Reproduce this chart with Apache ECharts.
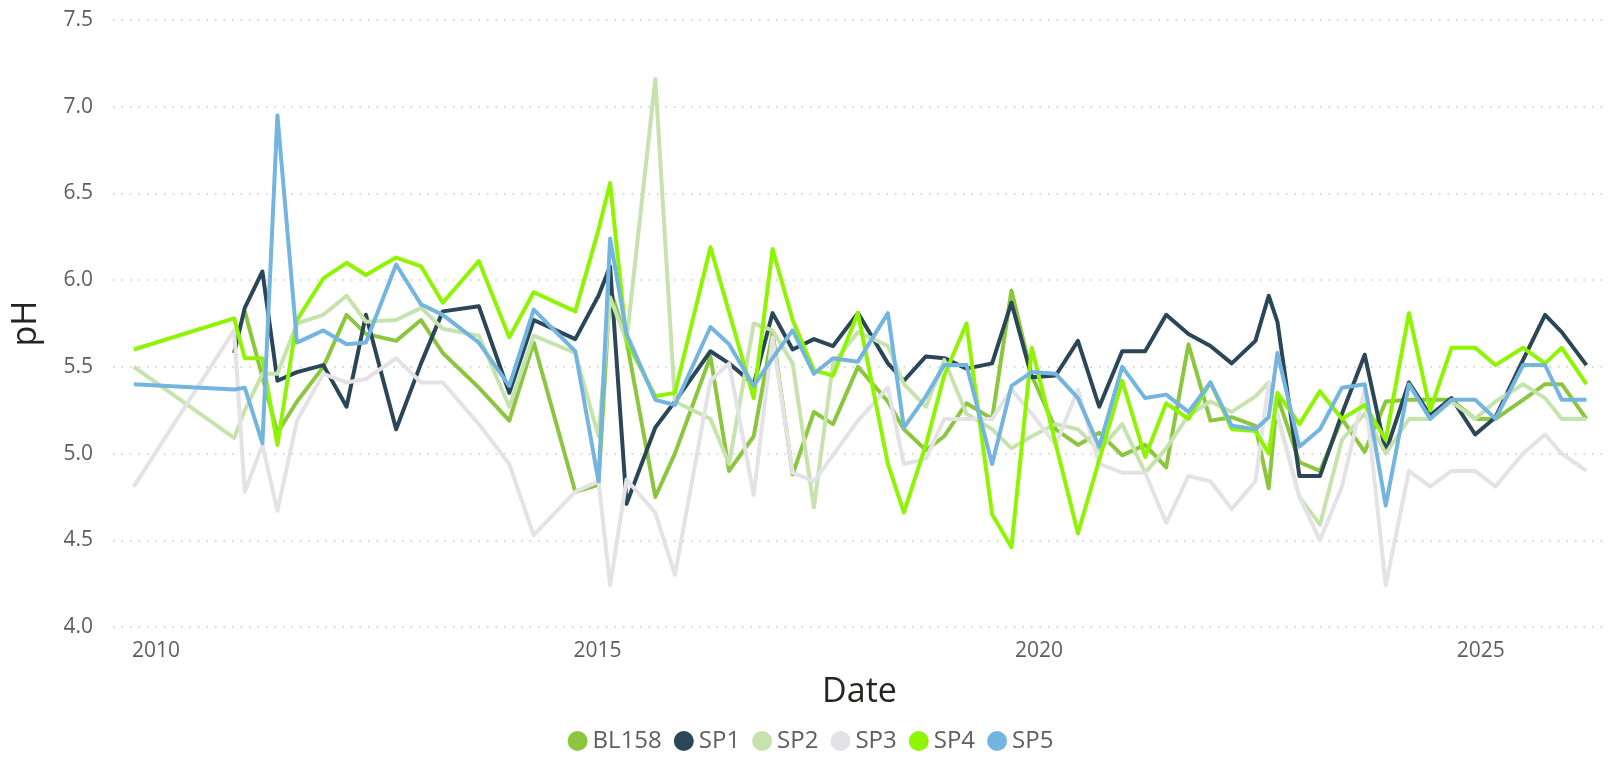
<!DOCTYPE html>
<html>
<head>
<meta charset="utf-8">
<title>pH</title>
<script src="https://cdn.jsdelivr.net/npm/echarts@6/dist/echarts.min.js"></script>
<style>
  html, body { margin: 0; padding: 0; background: #fff; }
  #chart { width: 1621px; height: 759px; }
</style>
</head>
<body>
<div id="chart"></div>
<script>
// sample dates (shared by all sites), null = no sample
var dates = [
  '2009-10-01', '2010-11-20', '2011-01-03', '2011-03-17', '2011-05-18', '2011-08-07', '2011-11-24',
  '2012-02-28', '2012-05-18', '2012-09-20', '2013-01-01', '2013-04-01', '2013-08-28', '2014-01-01',
  '2014-04-12', '2014-10-01', '2015-01-05', '2015-02-22', '2015-05-01', '2015-08-28', '2015-11-17',
  '2016-04-12', '2016-06-28', '2016-10-08', '2016-12-25', '2017-03-18', '2017-06-14', '2017-09-01',
  '2017-12-13', '2018-04-16', '2018-06-21', '2018-09-20', '2018-12-05', '2019-03-07', '2019-06-21',
  '2019-09-09', '2019-12-02', '2020-03-10', '2020-06-10', '2020-09-06', '2020-12-10', '2021-03-15',
  '2021-06-10', '2021-09-10', '2021-12-10', '2022-03-08', '2022-06-14', '2022-08-08', '2022-09-13',
  '2022-12-13', '2023-03-08', '2023-06-07', '2023-09-09', '2023-12-05', '2024-03-10', '2024-06-06',
  '2024-09-02', '2024-12-09', '2025-03-03', '2025-06-25', '2025-09-24', '2025-12-02', '2026-03-14'
];

var bl158 = [
  null, null, 5.82, null, 5.12, 5.30, 5.50,
  5.80, 5.69, 5.65, 5.77, 5.58, 5.38, 5.19,
  5.64, 4.78, 4.82, 5.95, 5.65, 4.75, 5.00,
  5.56, 4.90, 5.10, 5.70, 4.88, 5.24, 5.17,
  5.50, 5.30, 5.14, 5.02, 5.10, 5.29, 5.20,
  5.94, 5.45, 5.14, 5.05, 5.12, 4.99, 5.05,
  4.92, 5.63, 5.19, 5.21, 5.16, 4.80, 5.33,
  4.95, 4.90, 5.20, 5.01, 5.30, 5.31, 5.31,
  5.31, 5.20, 5.20, 5.31, 5.40, 5.40, 5.20
];

var sp1 = [
  null, 5.58, 5.84, 6.05, 5.42, 5.47, 5.51,
  5.27, 5.80, 5.14, 5.52, 5.82, 5.85, 5.35,
  5.77, 5.66, 5.91, 6.08, 4.71, 5.15, 5.30,
  5.59, 5.52, 5.40, 5.81, 5.60, 5.66, 5.62,
  5.81, 5.52, 5.42, 5.56, 5.55, 5.49, 5.52,
  5.87, 5.44, 5.45, 5.65, 5.27, 5.59, 5.59,
  5.80, 5.69, 5.62, 5.52, 5.65, 5.91, 5.76,
  4.87, 4.87, 5.23, 5.57, 5.01, 5.41, 5.22,
  5.32, 5.11, 5.21, 5.54, 5.80, 5.70, 5.51
];

var sp2 = [
  5.50, 5.09, 5.25, 5.46, 5.46, 5.75, 5.80,
  5.91, 5.76, 5.77, 5.84, 5.72, 5.68, 5.27,
  5.68, 5.58, 5.10, 5.90, 5.65, 7.16, 5.30,
  5.20, 4.94, 5.75, 5.71, 5.52, 4.69, 5.52,
  5.70, 5.62, 5.40, 5.27, 5.54, 5.23, 5.14,
  5.03, 5.10, 5.17, 5.14, 5.02, 5.17, 4.89,
  5.03, 5.22, 5.30, 5.24, 5.33, 5.41, null,
  4.75, 4.59, 5.08, 5.23, 5.00, 5.20, 5.20,
  5.30, 5.20, 5.30, 5.40, 5.32, 5.20, 5.20
];

var sp3 = [
  4.81, 5.71, 4.78, 5.05, 4.67, 5.19, 5.46,
  5.41, 5.43, 5.55, 5.41, 5.41, 5.17, 4.94,
  4.53, 4.78, 4.84, 4.24, 4.85, 4.66, 4.30,
  5.42, 5.52, 4.76, 5.67, 4.89, 4.84, null,
  5.19, 5.38, 4.94, 4.97, 5.20, 5.20, 5.20,
  5.37, 5.23, 5.05, 5.37, 4.94, 4.89, 4.89,
  4.60, 4.87, 4.84, 4.68, 4.84, 5.41, null,
  4.75, 4.50, 4.81, 5.37, 4.24, 4.90, 4.81,
  4.90, 4.90, 4.81, 5.00, 5.11, 5.00, 4.90
];

var sp4 = [
  5.60, 5.78, 5.55, 5.55, 5.05, 5.77, 6.01,
  6.10, 6.03, 6.13, 6.08, 5.87, 6.11, 5.67,
  5.93, 5.82, 6.29, 6.56, 5.65, 5.33, 5.35,
  6.19, null, 5.32, 6.18, 5.77, 5.48, 5.45,
  5.81, 4.94, 4.66, 5.05, 5.45, 5.75, 4.65,
  4.46, 5.61, null, 4.54, null, 5.42, 4.98,
  5.29, 5.20, 5.41, 5.14, 5.13, 5.00, 5.35,
  5.17, 5.36, 5.20, 5.28, 5.08, 5.81, 5.25,
  5.61, 5.61, 5.51, 5.61, 5.52, 5.61, 5.40
];

var sp5 = [
  5.40, 5.37, 5.38, 5.06, 6.95, 5.64, 5.71,
  5.63, 5.64, 6.09, 5.86, 5.80, 5.64, 5.39,
  5.83, 5.59, 4.84, 6.24, 5.69, 5.31, 5.28,
  5.73, 5.63, 5.39, 5.55, 5.71, 5.46, 5.55,
  5.53, 5.81, 5.15, 5.33, 5.51, 5.51, 4.94,
  5.39, 5.47, 5.46, 5.32, 5.04, 5.50, 5.32,
  5.34, 5.24, 5.41, 5.16, 5.14, 5.21, 5.58,
  5.04, 5.14, 5.38, 5.40, 4.70, 5.40, 5.20,
  5.31, 5.31, 5.20, 5.51, 5.51, 5.31, 5.31
];

var siteNames = ['BL158', 'SP1', 'SP2', 'SP3', 'SP4', 'SP5'];
var siteValues = [bl158, sp1, sp2, sp3, sp4, sp5];
var siteColors = ['#8cc63e', '#2b4757', '#c7e3ad', '#e3e2e6', '#8ef400', '#74b5df'];
var labelEvery = 5; // years between x labels

var FONT = '"Open Sans", "Noto Sans", sans-serif';
var DAY = 24 * 3600 * 1000;

function pairs(values) {
  var out = [];
  for (var i = 0; i < dates.length; i++) {
    if (values[i] != null) out.push([dates[i], values[i]]);
  }
  return out;
}

var chartDom = document.getElementById('chart');
var myChart = echarts.init(chartDom);

var option = {
  animation: false,
  color: siteColors,
  textStyle: { fontFamily: FONT },
  grid: { left: 113, right: 15, top: 20, bottom: 132 },
  legend: {
    data: siteNames,
    bottom: 1,
    left: 'center',
    icon: 'circle',
    itemWidth: 20,
    itemHeight: 20,
    itemGap: 12,
    textStyle: { color: '#605e5c', fontSize: 24, fontFamily: FONT }
  },
  xAxis: {
    type: 'time',
    min: '2009-07-07',
    max: '2026-06-03',
    splitNumber: 17,
    minInterval: 365 * DAY,
    maxInterval: 366 * DAY,
    name: 'Date',
    nameLocation: 'middle',
    nameGap: 48,
    nameTextStyle: { color: '#252423', fontSize: 34, fontFamily: FONT },
    axisLine: { show: false },
    axisTick: { show: false },
    splitLine: { show: false },
    axisLabel: {
      color: '#605e5c',
      fontSize: 21,
      margin: 14,
      showMinLabel: false,
      showMaxLabel: false,
      hideOverlap: false,
      formatter: function (v) {
        var d = new Date(v);
        var y = d.getFullYear();
        return (d.getMonth() === 0 && d.getDate() === 1 && y % labelEvery === 0) ? String(y) : '';
      }
    }
  },
  yAxis: {
    type: 'value',
    min: 4,
    max: 7.5,
    interval: 0.5,
    name: 'pH',
    nameLocation: 'middle',
    nameGap: 70,
    nameTextStyle: { color: '#252423', fontSize: 34, fontFamily: FONT },
    axisLine: { show: false },
    axisTick: { show: false },
    axisLabel: {
      color: '#605e5c',
      fontSize: 21,
      margin: 20,
      formatter: function (v) { return v.toFixed(1); }
    },
    splitLine: {
      lineStyle: { type: [1.5, 7], color: '#c8c8c8', width: 1.5 }
    }
  },
  series: siteNames.map(function (name, i) {
    return {
      name: name,
      type: 'line',
      data: pairs(siteValues[i]),
      showSymbol: false,
      symbol: 'circle',
      connectNulls: true,
      lineStyle: { width: 4, color: siteColors[i], join: 'round' },
      itemStyle: { color: siteColors[i] }
    };
  })
};

option && myChart.setOption(option);
</script>
</body>
</html>
